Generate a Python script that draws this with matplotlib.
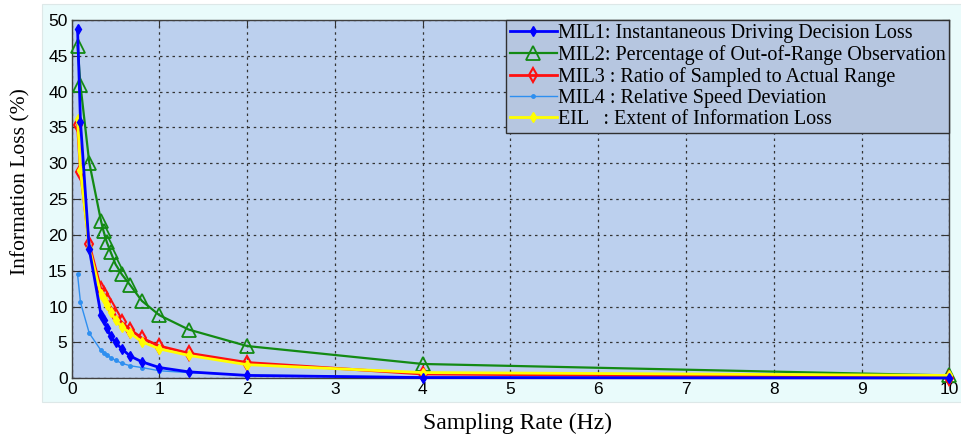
import numpy as np
import matplotlib
matplotlib.use("Agg")
import matplotlib.pyplot as plt

# sampling rates (Hz)
rate = [4/60, 0.1, 0.2, 4/12, 4/11, 0.4, 4/9, 0.5, 4/7, 4/6, 0.8, 1.0, 4/3, 2.0, 4.0, 10.0]

mil1 = [48.8, 35.8, 18.0, 8.9, 8.1, 7.0, 5.9, 5.0, 4.1, 3.1, 2.3, 1.5, 0.9, 0.4, 0.1, 0.05]
mil2 = [46.4, 40.9, 30.1, 22.0, 20.5, 19.0, 17.6, 15.9, 14.5, 13.0, 10.8, 8.8, 6.8, 4.5, 2.0, 0.4]
mil3 = [35.3, 28.8, 18.7, 12.4, 11.7, 10.9, 9.9, 8.7, 7.8, 6.8, 5.6, 4.5, 3.5, 2.2, 0.6, 0.1]
mil4 = [14.5, 10.6, 6.3, 3.9, 3.6, 3.2, 2.9, 2.5, 2.1, 1.75, 1.5, 1.05, 0.8, 0.45, 0.2, 0.05]
eil = [36.2, 29.0, 18.2, 11.7, 11.0, 10.2, 9.3, 8.1, 7.2, 6.3, 5.1, 4.1, 3.2, 1.9, 0.8, 0.4]

labels = [
    "MIL1: Instantaneous Driving Decision Loss",
    "MIL2: Percentage of Out-of-Range Observation",
    "MIL3 : Ratio of Sampled to Actual Range",
    "MIL4 : Relative Speed Deviation",
    "EIL   : Extent of Information Loss",
]

fig = plt.figure(figsize=(9.62, 4.36), dpi=100)
fig.patch.set_facecolor("white")
# light cyan panel behind the axes, like the MATLAB figure window
fig.patches.append(plt.Rectangle((42 / 962, 1 - 402 / 436), 920 / 962, 398 / 436,
                                 transform=fig.transFigure, facecolor="#e9fbfb",
                                 edgecolor="#dde8e8", lw=0.8, zorder=-10))

ax = fig.add_axes([71.7 / 962, 1 - 378.3 / 436, (949.3 - 71.7) / 962, (378.3 - 20) / 436])
ax.set_facecolor("#bcd0ee")

h4, = ax.plot(rate, mil4, color="#2e8ff0", lw=1.0, marker=".", ms=5, zorder=3, clip_on=False)
h2, = ax.plot(rate, mil2, color="#138a13", lw=1.6, marker="^", ms=10, mfc="none", mew=1.3,
              zorder=3, clip_on=False)
h3, = ax.plot(rate, mil3, color="#ff1010", lw=2.0, marker="d", ms=7, mfc="none", mew=1.5,
              zorder=4, clip_on=False)
h5, = ax.plot(rate, eil, color="#ffff00", lw=2.0, marker="d", ms=5, zorder=5, clip_on=False)
h1, = ax.plot(rate, mil1, color="#0000ff", lw=2.0, marker="d", ms=5, zorder=6, clip_on=False)

ax.set_xlim(0, 10)
ax.set_ylim(0, 50)
ax.set_xticks(np.arange(0, 11, 1))
ax.set_yticks(np.arange(0, 51, 5))
ax.grid(True, color="#333333", ls=(0, (2, 3)), lw=0.9)
ax.set_axisbelow(True)
ax.tick_params(direction="in", top=True, right=True, labelsize=12.5, length=5,
               color="#333333", pad=3)
for s in ax.spines.values():
    s.set_color("#404040")
    s.set_linewidth(1.0)
for t in ax.get_xticklabels() + ax.get_yticklabels():
    t.set_fontfamily("Liberation Sans")

ax.set_xlabel("Sampling Rate (Hz)", fontfamily="Liberation Serif", fontsize=17)
ax.set_ylabel("Information Loss (%)", fontfamily="Liberation Serif", fontsize=15.5)
ax.xaxis.set_label_coords(0.508, -0.095)
ax.yaxis.set_label_coords(-0.047, 0.55)

leg = ax.legend([h1, h2, h3, h4, h5], labels, loc="upper right",
                prop={"family": "Liberation Serif", "size": 14.5},
                fancybox=False, framealpha=1, borderaxespad=0.0,
                handlelength=2.3, handletextpad=0.05, labelspacing=0.1,
                borderpad=0.2, markerscale=1.0)
leg.set_zorder(10)
leg.get_frame().set_facecolor("#b6c6e0")
leg.get_frame().set_edgecolor("#303030")
leg.get_frame().set_linewidth(1.0)

fig.savefig("out.png", dpi=100)
